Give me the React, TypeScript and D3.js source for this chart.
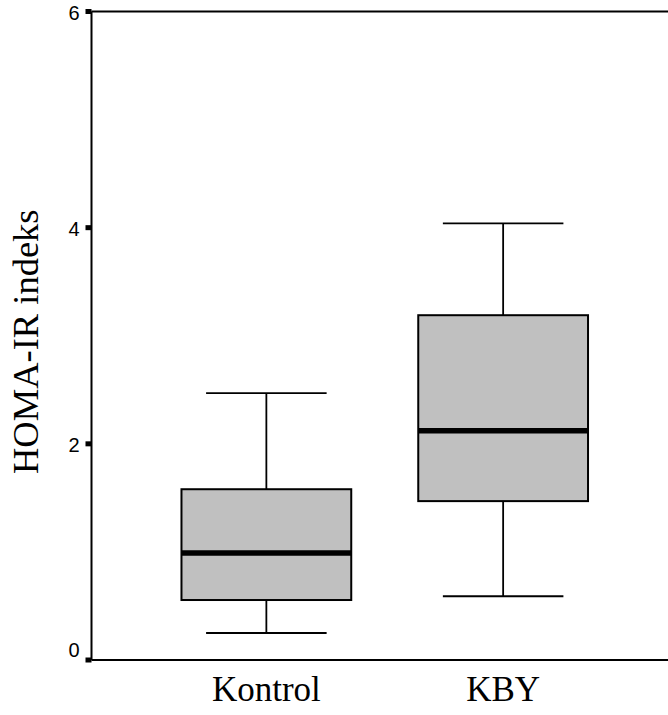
import React from "react";
import * as d3 from "d3";

const categories = ["Kontrol", "KBY"];
const lowerWhisker = [0.25, 0.59];
const q1 = [0.555, 1.47];
const median = [0.99, 2.12];
const q3 = [1.58, 3.19];
const upperWhisker = [2.47, 4.04];
const yTicks = [0, 2, 4, 6];
const yTitle = "HOMA-IR indeks";

const W = 668;
const H = 715;
const left = 91.5;
const top = 11.5;
const bottom = 660;
const rightEnd = 678;

export default function App() {
  const y = d3.scaleLinear().domain([0, 6]).range([bottom, top]);
  const x = d3
    .scaleBand<string>()
    .domain(categories)
    .range([left, rightEnd])
    .paddingInner(0.283)
    .paddingOuter(0.38);
  const bw = x.bandwidth();
  const capW = bw * 0.71;

  return (
    <svg
      width={W}
      height={H}
      style={{ position: "absolute", left: 0, top: 0, display: "block", background: "#fff" }}
    >
      {/* frame */}
      <line x1={left} x2={W + 5} y1={top} y2={top} stroke="#000" strokeWidth={2} />
      <line x1={left} x2={W + 5} y1={bottom} y2={bottom} stroke="#000" strokeWidth={2} />
      <line x1={left} x2={left} y1={top} y2={bottom} stroke="#000" strokeWidth={2} />

      {/* y ticks */}
      {yTicks.map((t, i) => {
        const ty = y(t);
        const labelY = i === 0 ? ty - 2.8 : ty + 8.5;
        return (
          <g key={t}>
            <rect x={left - 6} y={ty - 2.5} width={6} height={5} fill="#000" />
            <text
              x={79.5}
              y={labelY}
              textAnchor="end"
              fontFamily="'Liberation Sans', Arial, sans-serif"
              fontSize={20}
              fill="#000"
            >
              {t}
            </text>
          </g>
        );
      })}

      {/* boxes */}
      {categories.map((c, i) => {
        const x0 = x(c)!;
        const cx = x0 + bw / 2;
        return (
          <g key={c}>
            <line x1={cx} x2={cx} y1={y(upperWhisker[i])} y2={y(q3[i])} stroke="#000" strokeWidth={1.8} />
            <line x1={cx} x2={cx} y1={y(q1[i])} y2={y(lowerWhisker[i])} stroke="#000" strokeWidth={1.8} />
            <line x1={cx - capW / 2} x2={cx + capW / 2} y1={y(upperWhisker[i])} y2={y(upperWhisker[i])} stroke="#000" strokeWidth={1.8} />
            <line x1={cx - capW / 2} x2={cx + capW / 2} y1={y(lowerWhisker[i])} y2={y(lowerWhisker[i])} stroke="#000" strokeWidth={1.8} />
            <rect
              x={x0}
              y={y(q3[i])}
              width={bw}
              height={y(q1[i]) - y(q3[i])}
              fill="#c0c0c0"
              stroke="#000"
              strokeWidth={2}
            />
            <line x1={x0} x2={x0 + bw} y1={y(median[i])} y2={y(median[i])} stroke="#000" strokeWidth={5.5} />
            <text
              x={cx}
              y={701}
              textAnchor="middle"
              fontFamily="'Liberation Serif', 'Times New Roman', serif"
              fontSize={35}
              fill="#000"
            >
              {c}
            </text>
          </g>
        );
      })}

      {/* y title */}
      <text
        transform={`translate(37.5, ${(top + bottom) / 2 + 6}) rotate(-90)`}
        textAnchor="middle"
        fontFamily="'Liberation Serif', 'Times New Roman', serif"
        fontSize={36.5}
        fill="#000"
      >
        {yTitle}
      </text>
    </svg>
  );
}
